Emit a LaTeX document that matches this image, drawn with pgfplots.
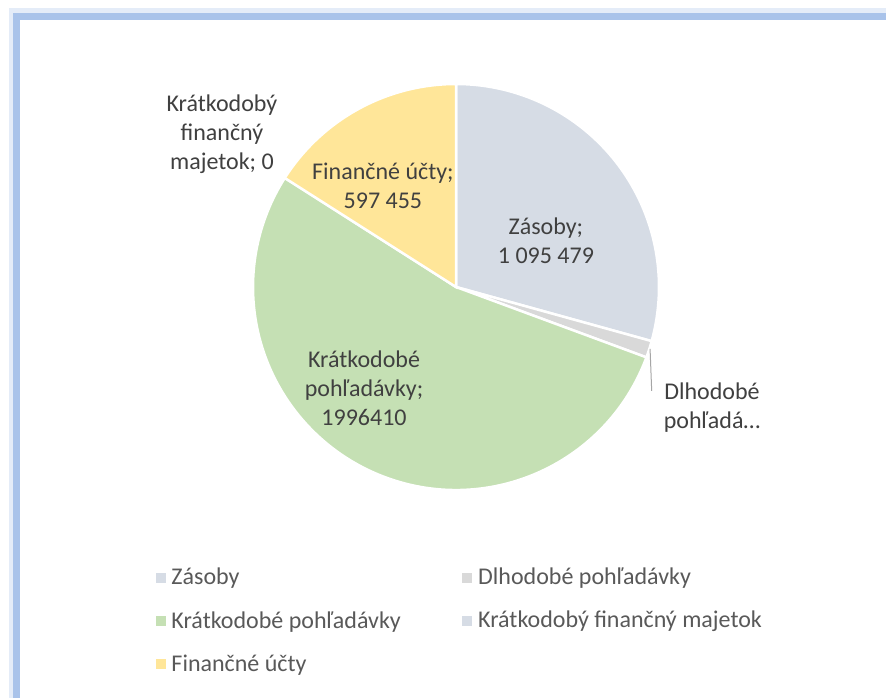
\documentclass[border=0pt]{standalone}
\usepackage{pgfplots}
\pgfplotsset{compat=1.18}
\usepackage{fontspec}
\setmainfont{Carlito}
\definecolor{cZ}{HTML}{D6DCE5}
\definecolor{cD}{HTML}{D9D9D9}
\definecolor{cK}{HTML}{C5E0B4}
\definecolor{cM}{HTML}{D6DCE5}
\definecolor{cF}{HTML}{FFE699}
\definecolor{txt}{HTML}{404040}
\definecolor{leg}{HTML}{595959}
\definecolor{frame}{HTML}{A9C3EA}
% values
\def\vZ{1095479}
\def\vD{50000}
\def\vK{1996410}
\def\vM{0}
\def\vF{597455}
\edef\vT{\fpeval{\vZ+\vD+\vK+\vM+\vF}}
\edef\aA{90}
\edef\aB{\fpeval{round(\aA-360*\vZ/\vT,4)}}
\edef\aC{\fpeval{round(\aB-360*\vD/\vT,4)}}
\edef\aD{\fpeval{round(\aC-360*\vK/\vT,4)}}
\edef\aE{\fpeval{round(\aD-360*\vM/\vT,4)}}
\edef\aF{\fpeval{round(\aE-360*\vF/\vT,4)}}
\newcommand\lf{\fontsize{24}{29}\selectfont}
\begin{document}
\begin{tikzpicture}[x=1pt,y=1pt]
\useasboundingbox (0,0) rectangle (886,697);
\fill[white] (0,0) rectangle (886,697);
\begin{scope}
\clip (0,0) rectangle (886,697);
\draw[frame!60, line width=8pt, opacity=0.5] (12.5,-20) -- (12.5,684.5) -- (920,684.5);
\draw[frame, line width=7pt] (16.5,-20) -- (16.5,680.5) -- (920,680.5);
\end{scope}
\begin{axis}[at={(456pt,410pt)}, anchor=center, x=203pt, y=203pt,
  xmin=-1, xmax=1, ymin=-1, ymax=1, hide axis, clip=false,
  legend columns=2,
  legend cell align=left,
  legend style={at={(-0.2404,-0.187)}, anchor=north west, draw=none, fill=none,
    inner sep=0pt, row sep=21pt,
    font=\lf, text=leg,
    nodes={inner sep=2pt},
    /tikz/every odd column/.append style={column sep=4.5pt},
    /tikz/every even column/.append style={column sep=59.5pt}},
]
\fill[cZ, draw=white, line width=2.5pt] (0,0) -- ({cos(\aA)},{sin(\aA)}) arc[start angle=\aA, end angle=\aB, radius=203pt] -- cycle;
\fill[cD, draw=white, line width=2.5pt] (0,0) -- ({cos(\aB)},{sin(\aB)}) arc[start angle=\aB, end angle=\aC, radius=203pt] -- cycle;
\fill[cK, draw=white, line width=2.5pt] (0,0) -- ({cos(\aC)},{sin(\aC)}) arc[start angle=\aC, end angle=\aD, radius=203pt] -- cycle;
\fill[cF, draw=white, line width=2.5pt] (0,0) -- ({cos(\aE)},{sin(\aE)}) arc[start angle=\aE, end angle=\aF, radius=203pt] -- cycle;
\draw[white, line width=2.5pt] (0,0) -- ({cos(\aA)},{sin(\aA)});
\addlegendimage{legend image code/.code={\fill[cZ] (0pt,-4.5pt) rectangle (9pt,4.5pt);}}
\addlegendentry{Zásoby}
\addlegendimage{legend image code/.code={\fill[cD] (0pt,-4.5pt) rectangle (9pt,4.5pt);}}
\addlegendentry{Dlhodobé pohľadávky}
\addlegendimage{legend image code/.code={\fill[cK] (0pt,-4.5pt) rectangle (9pt,4.5pt);}}
\addlegendentry{Krátkodobé pohľadávky}
\addlegendimage{legend image code/.code={\fill[cM] (0pt,-4.5pt) rectangle (9pt,4.5pt);}}
\addlegendentry{Krátkodobý finančný majetok}
\addlegendimage{legend image code/.code={\fill[cF] (0pt,-4.5pt) rectangle (9pt,4.5pt);}}
\addlegendentry{Finančné účty}
% data labels
\node[align=center, text=txt, font=\lf] at (-1.153,0.754) {Krátkodobý\\finančný\\majetok; 0};
\node[align=center, text=txt, font=\lf] at (-0.360,0.498) {Finančné účty;\\597 455};
\node[align=center, text=txt, font=\lf] at (0.443,0.227) {Zásoby;\\1 095 479};
\node[align=center, text=txt, font=\lf] at (-0.453,-0.498) {Krátkodobé\\pohľadávky;\\1996410};
\node[align=center, text=txt, font=\lf] at (1.261,-0.596) {Dlhodobé\\pohľadá…};
\draw[gray!70, line width=1pt] (0.956,-0.305) -- (0.964,-0.512);
\end{axis}
\end{tikzpicture}
\end{document}
